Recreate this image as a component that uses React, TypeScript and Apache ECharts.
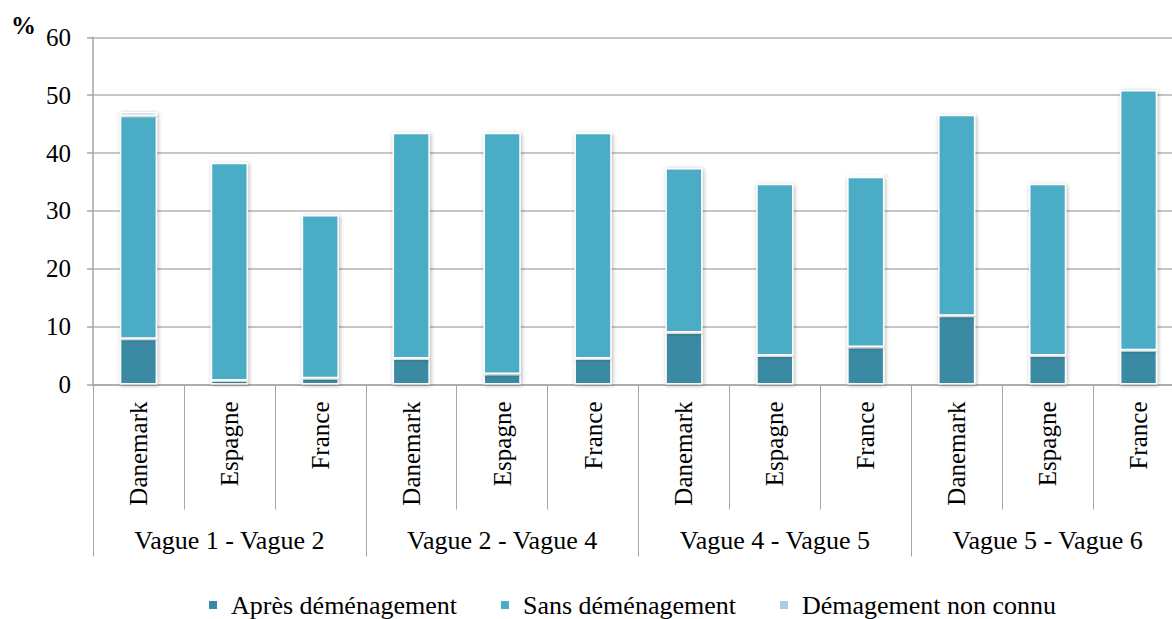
import React, { useEffect, useRef } from "react";
import * as echarts from "echarts";

const countries = ["Danemark", "Espagne", "France", "Danemark", "Espagne", "France", "Danemark", "Espagne", "France", "Danemark", "Espagne", "France"];
const groups = ["Vague 1 - Vague 2", "Vague 2 - Vague 4", "Vague 4 - Vague 5", "Vague 5 - Vague 6"];
const apres = [7.9, 0.7, 1.1, 4.5, 1.8, 4.5, 9.0, 5.0, 6.5, 11.9, 5.0, 5.9];
const sans = [38.5, 37.6, 28.2, 39.0, 41.7, 39.0, 28.4, 29.7, 29.4, 34.7, 29.7, 45.0];
const inconnu = [0.7, 0, 0, 0, 0, 0, 0, 0, 0.4, 0, 0, 0];
const yTicks = { min: 0, max: 60, interval: 10 };

const FONT = "Liberation Serif";

export default function App() {
  const ref = useRef<HTMLDivElement>(null);
  useEffect(() => {
    if (!ref.current) return;
    const chart = echarts.init(ref.current, null, { renderer: "svg" });
    const itemStyle = (color: string) => ({
      color,
      borderColor: "#ffffff",
      borderWidth: 1.5,
      shadowBlur: 4,
      shadowColor: "rgba(0,0,0,0.3)",
      shadowOffsetX: 1,
      shadowOffsetY: 1,
    });
    chart.setOption({
      animation: false,
      textStyle: { fontFamily: FONT },
      grid: { left: 93, top: 37.3, width: 1091, height: 347.2, containLabel: false },
      legend: {
        left: 207,
        top: 592,
        padding: 0,
        icon: "rect",
        itemWidth: 10,
        itemHeight: 10,
        itemGap: 42,
        textStyle: { fontFamily: FONT, fontSize: 26, color: "#000", padding: [0, 0, 0, 8], lineHeight: 26 },
        data: ["Après déménagement", "Sans déménagement", "Démagement non connu"],
      },
      graphic: [
        {
          type: "text",
          left: 11,
          top: 13,
          style: { text: "%", fontFamily: FONT, fontWeight: "bold", fontSize: 25, fill: "#000" },
        },
      ],
      xAxis: [
        {
          type: "category",
          data: countries,
          position: "bottom",
          axisLine: { show: true, lineStyle: { color: "#A6A6A6", width: 1.5 } },
          axisTick: { show: true, interval: 0, length: 125, lineStyle: { color: "#A6A6A6", width: 1 } },
          axisLabel: { interval: 0, rotate: 90, margin: 17, fontFamily: FONT, fontSize: 25, color: "#000" },
        },
        {
          type: "category",
          data: groups,
          position: "bottom",
          axisLine: { show: false },
          axisTick: { show: true, interval: 0, length: 172, lineStyle: { color: "#A6A6A6", width: 1 } },
          axisLabel: { interval: 0, margin: 143, fontFamily: FONT, fontSize: 26, color: "#000" },
        },
      ],
      yAxis: {
        type: "value",
        min: yTicks.min,
        max: yTicks.max,
        interval: yTicks.interval,
        axisLine: { show: true, lineStyle: { color: "#A6A6A6", width: 1.5 } },
        axisTick: { show: true, length: 6, lineStyle: { color: "#A6A6A6", width: 1.5 } },
        axisLabel: { margin: 22, fontFamily: FONT, fontSize: 25, color: "#000" },
        splitLine: { show: true, lineStyle: { color: "#B3B3B3", width: 1.5 } },
      },
      series: [
        { name: "Après déménagement", type: "bar", stack: "a", data: apres, barWidth: "41%", itemStyle: itemStyle("#3B8AA3") },
        { name: "Sans déménagement", type: "bar", stack: "a", data: sans, barWidth: "41%", itemStyle: itemStyle("#4BACC6") },
        { name: "Démagement non connu", type: "bar", stack: "a", data: inconnu, barWidth: "41%", itemStyle: itemStyle("#A6D0E0") },
      ],
    });
    return () => chart.dispose();
  }, []);
  return (
    <div style={{ position: "fixed", left: 0, top: 0, width: 1172, height: 619, overflow: "hidden", background: "#fff" }}>
      <div ref={ref} style={{ width: 1200, height: 619 }} />
    </div>
  );
}
